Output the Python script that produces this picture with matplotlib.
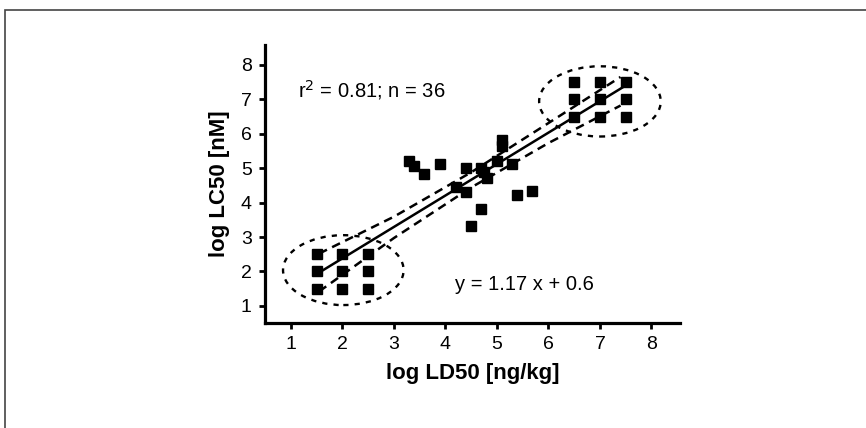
import matplotlib.pyplot as plt
from matplotlib.patches import Ellipse, Rectangle

plt.rcParams['font.family'] = ['Liberation Sans', 'DejaVu Sans']

# datos
ld50_low = [1.5, 1.5, 1.5, 2.0, 2.0, 2.0, 2.5, 2.5, 2.5]
lc50_low = [1.5, 2.0, 2.5, 1.5, 2.0, 2.5, 1.5, 2.0, 2.5]

ld50_mid = [3.30, 3.40, 3.58, 3.89, 4.20, 4.40, 4.40, 4.49, 4.69, 4.70,
            4.75, 4.80, 5.00, 5.09, 5.09, 5.30, 5.39, 5.69]
lc50_mid = [5.22, 5.05, 4.83, 5.13, 4.45, 4.32, 5.02, 3.31, 3.81, 5.00,
            4.88, 4.71, 5.22, 5.83, 5.65, 5.12, 4.23, 4.33]

ld50_high = [6.5, 6.5, 6.5, 7.0, 7.0, 7.0, 7.5, 7.5, 7.5]
lc50_high = [6.5, 7.0, 7.5, 6.5, 7.0, 7.5, 6.5, 7.0, 7.5]

# recta de regresion y bandas de confianza
fit_x = [1.53, 7.52]
fit_y = [1.95, 7.42]
band_x = [1.55, 3.0, 4.5, 6.0, 7.4]
band_upper = [2.52, 3.59, 4.88, 6.31, 7.65]
band_lower = [1.42, 2.97, 4.44, 5.73, 6.82]

# grupos marcados con elipse: centro x, centro y, ancho, alto
clusters = [(2.02, 2.04, 2.34, 2.03), (7.0, 6.94, 2.36, 2.04)]

fig = plt.figure(figsize=(8.66, 4.28), dpi=100)
ax = fig.add_axes([0.306, 0.245, 0.479, 0.65])

# marco de la imagen
fig.patches.append(Rectangle((5 / 866, -0.1), 1.2, 1 - 10 / 428 + 0.1,
                             transform=fig.transFigure, fill=False,
                             edgecolor='#444444', linewidth=1.2))

ld50 = ld50_low + ld50_mid + ld50_high
lc50 = lc50_low + lc50_mid + lc50_high
ax.plot(ld50, lc50, 's', color='black', markersize=7, linestyle='none')

ax.plot(fit_x, fit_y, color='black', linewidth=1.8)
ax.plot(band_x, band_upper, color='black', linewidth=1.8, linestyle=(0, (3.5, 2.3)))
ax.plot(band_x, band_lower, color='black', linewidth=1.8, linestyle=(0, (3.5, 2.3)))

for cx, cy, w, h in clusters:
    ax.add_patch(Ellipse((cx, cy), w, h, fill=False, edgecolor='black',
                         linewidth=1.7, linestyle=(0, (2.2, 2.6))))

ax.text(1.14, 7.26, r'r$^2$ = 0.81; n = 36', fontsize=14.5, va='center')
ax.text(4.18, 1.61, 'y = 1.17 x + 0.6', fontsize=14.5, va='center')

ax.set_xlim(0.5, 8.55)
ax.set_ylim(0.5, 8.58)
ax.set_xticks(range(1, 9))
ax.set_yticks(range(1, 9))
for s in ['top', 'right']:
    ax.spines[s].set_visible(False)
for s in ['left', 'bottom']:
    ax.spines[s].set_linewidth(2.3)
ax.tick_params(direction='out', length=4.5, width=2, labelsize=14, pad=5)

ax.set_xlabel('log LD50 [ng/kg]', fontsize=16, fontweight='bold', labelpad=7)
ax.set_ylabel('log LC50 [nM]', fontsize=16, fontweight='bold', labelpad=8)

fig.savefig('out.png', dpi=100)
